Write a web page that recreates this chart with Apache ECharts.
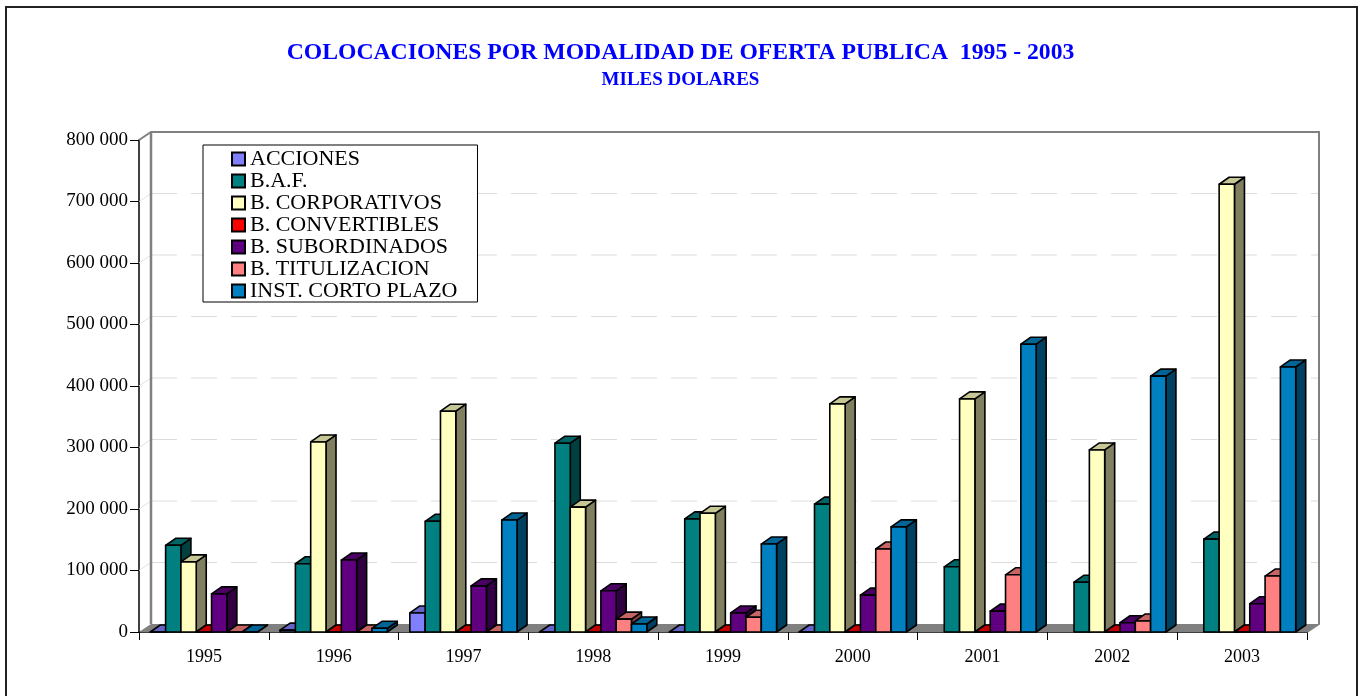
<!DOCTYPE html>
<html>
<head>
<meta charset="utf-8">
<script src="https://cdn.jsdelivr.net/npm/echarts@6/dist/echarts.min.js"></script>
<style>
  html, body { margin: 0; padding: 0; background: #fff; }
  #chart { width: 1361px; height: 696px; }
</style>
</head>
<body>
<div id="chart"></div>
<script>
// data (miles de dolares)
const years = ["1995", "1996", "1997", "1998", "1999", "2000", "2001", "2002", "2003"];
const seriesNames = ["ACCIONES", "B.A.F.", "B. CORPORATIVOS", "B. CONVERTIBLES",
  "B. SUBORDINADOS", "B. TITULIZACION", "INST. CORTO PLAZO"];
const acciones = [0, 3000, 31000, 0, 0, 0, null, null, null];
const baf = [141000, 111000, 180000, 307000, 184000, 208000, 106000, 81000, 151000];
const corporativos = [114000, 309000, 359000, 203000, 193000, 371000, 379000, 296000, 728000];
const convertibles = [0, 0, 0, 0, 0, 0, 0, 0, 0];
const subordinados = [62000, 117000, 75000, 67000, 31000, 60000, 34000, 15000, 46000];
const titulizacion = [0, 0, 0, 21000, 24000, 135000, 93000, 18000, 91000];
const cortoPlazo = [0, 6000, 182000, 13000, 143000, 171000, 468000, 416000, 431000];
const yTicks = [0, 100000, 200000, 300000, 400000, 500000, 600000, 700000, 800000];

const allValues = [acciones, baf, corporativos, convertibles, subordinados, titulizacion, cortoPlazo];
const colors = ["#8080FF", "#008080", "#FFFFC0", "#FF0000", "#600080", "#FF8080", "#0080C0"];

const FONT = "'Liberation Serif', 'Times New Roman', serif";
const WALL_DX = 12, WALL_DY = 8;   // depth of floor / walls
const BAR_DX = 10, BAR_DY = 7;     // depth of columns
const BAR_FRAC = 0.118;            // column width as part of a category

function shade(hex, f) {
  const n = parseInt(hex.slice(1), 16);
  const r = Math.round(((n >> 16) & 255) * f);
  const g = Math.round(((n >> 8) & 255) * f);
  const b = Math.round((n & 255) * f);
  return "rgb(" + r + "," + g + "," + b + ")";
}

function thousands(v) {
  return String(v).replace(/\B(?=(\d{3})+(?!\d))/g, " ");
}

// floor, back wall, left wall and gridlines
function renderFrame(params, api) {
  const cs = params.coordSys;
  const x0 = cs.x, x1 = cs.x + cs.width;
  const yTop = cs.y, yb = cs.y + cs.height;
  const gray = "#808080";
  const children = [];
  children.push({
    type: "polygon",
    shape: { points: [[x0, yb], [x1, yb], [x1 + WALL_DX, yb - WALL_DY], [x0 + WALL_DX, yb - WALL_DY]] },
    style: { fill: gray }
  });
  yTicks.forEach(function (t) {
    if (t === 0 || t === yTicks[yTicks.length - 1]) return;
    const y = api.coord([0, t])[1];
    children.push({
      type: "line",
      shape: { x1: x0 + WALL_DX, y1: y - WALL_DY, x2: x1 + WALL_DX, y2: y - WALL_DY },
      style: { stroke: "#dcdcdc", lineWidth: 1, lineDash: [26, 14] }
    });
    children.push({
      type: "line",
      shape: { x1: x0, y1: y, x2: x0 + WALL_DX, y2: y - WALL_DY },
      style: { stroke: "#e2e2e2", lineWidth: 1 }
    });
  });
  children.push({
    type: "polyline",
    shape: { points: [[x0, yTop], [x0 + WALL_DX, yTop - WALL_DY], [x1 + WALL_DX, yTop - WALL_DY], [x1 + WALL_DX, yb - WALL_DY], [x1, yb]] },
    style: { stroke: gray, lineWidth: 2, fill: null }
  });
  children.push({
    type: "line",
    shape: { x1: x0 + WALL_DX, y1: yTop - WALL_DY, x2: x0 + WALL_DX, y2: yb - WALL_DY },
    style: { stroke: gray, lineWidth: 2.5 }
  });
  return { type: "group", children: children };
}

function makeBarRenderer(idx) {
  const n = seriesNames.length;
  const base = colors[idx];
  return function (params, api) {
    const cat = api.value(0);
    const v = api.value(1);
    if (isNaN(v)) return;
    const band = api.size([1, 0])[0];
    const w = band * BAR_FRAC;
    const p0 = api.coord([cat, 0]);
    const top = api.coord([cat, v])[1];
    const bottom = p0[1];
    const left = p0[0] + (idx - n / 2) * w;
    const right = left + w;
    const stroke = { stroke: "#000", lineWidth: 1.6, lineJoin: "round" };
    return {
      type: "group",
      children: [
        {
          type: "polygon",
          shape: { points: [[right, top], [right + BAR_DX, top - BAR_DY], [right + BAR_DX, bottom - BAR_DY], [right, bottom]] },
          style: Object.assign({ fill: shade(base, 0.5) }, stroke)
        },
        {
          type: "polygon",
          shape: { points: [[left, top], [left + BAR_DX, top - BAR_DY], [right + BAR_DX, top - BAR_DY], [right, top]] },
          style: Object.assign({ fill: shade(base, 0.78) }, stroke)
        },
        {
          type: "rect",
          shape: { x: left, y: top, width: w, height: bottom - top },
          style: Object.assign({ fill: base }, stroke)
        }
      ]
    };
  };
}

const series = [{
  name: "frame",
  type: "custom",
  renderItem: renderFrame,
  data: [[0, 0]],
  z: 1,
  silent: true
}];
seriesNames.forEach(function (name, i) {
  const data = [];
  allValues[i].forEach(function (v, k) {
    if (v !== null) data.push([k, v]);
  });
  series.push({
    name: name,
    type: "custom",
    renderItem: makeBarRenderer(i),
    data: data,
    z: 2,
    itemStyle: { color: colors[i], borderColor: "#000", borderWidth: 1.5 }
  });
});

const chart = echarts.init(document.getElementById("chart"));
chart.setOption({
  animation: false,
  backgroundColor: "#fff",
  title: {
    text: "COLOCACIONES POR MODALIDAD DE OFERTA PUBLICA  1995 - 2003",
    subtext: "MILES DOLARES",
    left: "center",
    top: 36,
    itemGap: 6,
    textStyle: { fontFamily: FONT, fontSize: 23.7, fontWeight: "bold", color: "#0000FF" },
    subtextStyle: { fontFamily: FONT, fontSize: 19, fontWeight: "bold", color: "#0000FF" }
  },
  legend: {
    data: seriesNames,
    orient: "vertical",
    left: 203,
    top: 145,
    padding: [3, 20, 0, 28],
    itemGap: 0,
    itemWidth: 13,
    itemHeight: 13,
    icon: "rect",
    backgroundColor: "#fff",
    borderColor: "#000",
    borderWidth: 1,
    borderRadius: 0,
    textStyle: { fontFamily: FONT, fontSize: 22, color: "#000", lineHeight: 21.4 }
  },
  grid: { left: 139, right: 54, top: 140, bottom: 64 },
  xAxis: {
    type: "category",
    data: years,
    axisLine: { lineStyle: { color: "#000", width: 1.5 } },
    axisTick: { show: true, length: 8, lineStyle: { color: "#000" } },
    axisLabel: { fontFamily: FONT, fontSize: 18, color: "#000", margin: 16 },
    splitLine: { show: false }
  },
  yAxis: {
    type: "value",
    min: yTicks[0],
    max: yTicks[yTicks.length - 1],
    interval: yTicks[1] - yTicks[0],
    axisLine: { show: true, lineStyle: { color: "#000", width: 1.5 } },
    axisTick: { show: true, length: 9, lineStyle: { color: "#000" } },
    axisLabel: { fontFamily: FONT, fontSize: 19, color: "#000", margin: 11, formatter: thousands },
    splitLine: { show: false }
  },
  graphic: [{
    type: "rect",
    shape: { x: 6, y: 7, width: 1351, height: 720 },
    style: { fill: null, stroke: "#222", lineWidth: 2 },
    silent: true,
    z: 100
  }],
  series: series
});
</script>
</body>
</html>
